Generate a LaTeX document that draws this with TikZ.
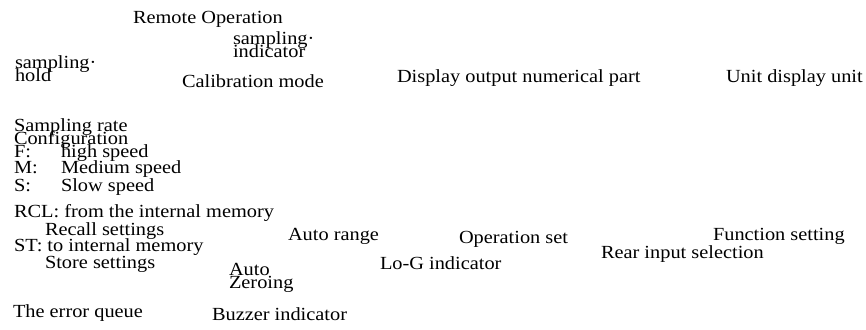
\documentclass[tikz,border=0pt]{standalone}
\usepackage{fontspec}
\setmainfont{Liberation Serif}[FakeStretch=1.1]
\begin{document}
\begin{tikzpicture}[x=1pt,y=-1pt,
  lbl/.style={anchor=base west,inner sep=0pt,outer sep=0pt,
    font=\fontsize{18.5}{22}\selectfont}]
\useasboundingbox (0,0) rectangle (866,329);
% top row
\node[lbl] (remote) at (133,24) {Remote Operation};
\node[lbl] (sampind1) at (233,45) {sampling·};
\node[lbl] (sampind2) at (233,58) {indicator};
\node[lbl] (samphold1) at (15,68) {sampling·};
\node[lbl] (samphold2) at (15,81) {hold};
\node[lbl] (calib) at (182,87) {Calibration mode};
\node[lbl] (display) at (397,82) {Display output numerical part};
\node[lbl] (unit) at (726,82) {Unit display unit};
% sampling rate block
\node[lbl] (rate1) at (14,131) {Sampling rate};
\node[lbl] (rate2) at (14,144) {Configuration};
\node[lbl] (fkey) at (14,157) {F:};
\node[lbl] (fval) at (61,157) {high speed};
\node[lbl] (mkey) at (14,173) {M:};
\node[lbl] (mval) at (61,173) {Medium speed};
\node[lbl] (skey) at (14,191) {S:};
\node[lbl] (sval) at (61,191) {Slow speed};
% memory block
\node[lbl] (rcl) at (14,217) {RCL: from the internal memory};
\node[lbl] (recall) at (45,235) {Recall settings};
\node[lbl] (st) at (14,251) {ST: to internal memory};
\node[lbl] (store) at (45,268) {Store settings};
% lower row
\node[lbl] (autorange) at (288,240) {Auto range};
\node[lbl] (opset) at (459,243) {Operation set};
\node[lbl] (func) at (713,240) {Function setting};
\node[lbl] (rear) at (601,258) {Rear input selection};
\node[lbl] (log) at (380,269) {Lo-G indicator};
\node[lbl] (autoz1) at (229,275) {Auto};
\node[lbl] (autoz2) at (229,288) {Zeroing};
\node[lbl] (errq) at (13,317) {The error queue};
\node[lbl] (buzz) at (212,320) {Buzzer indicator};
\end{tikzpicture}
\end{document}
